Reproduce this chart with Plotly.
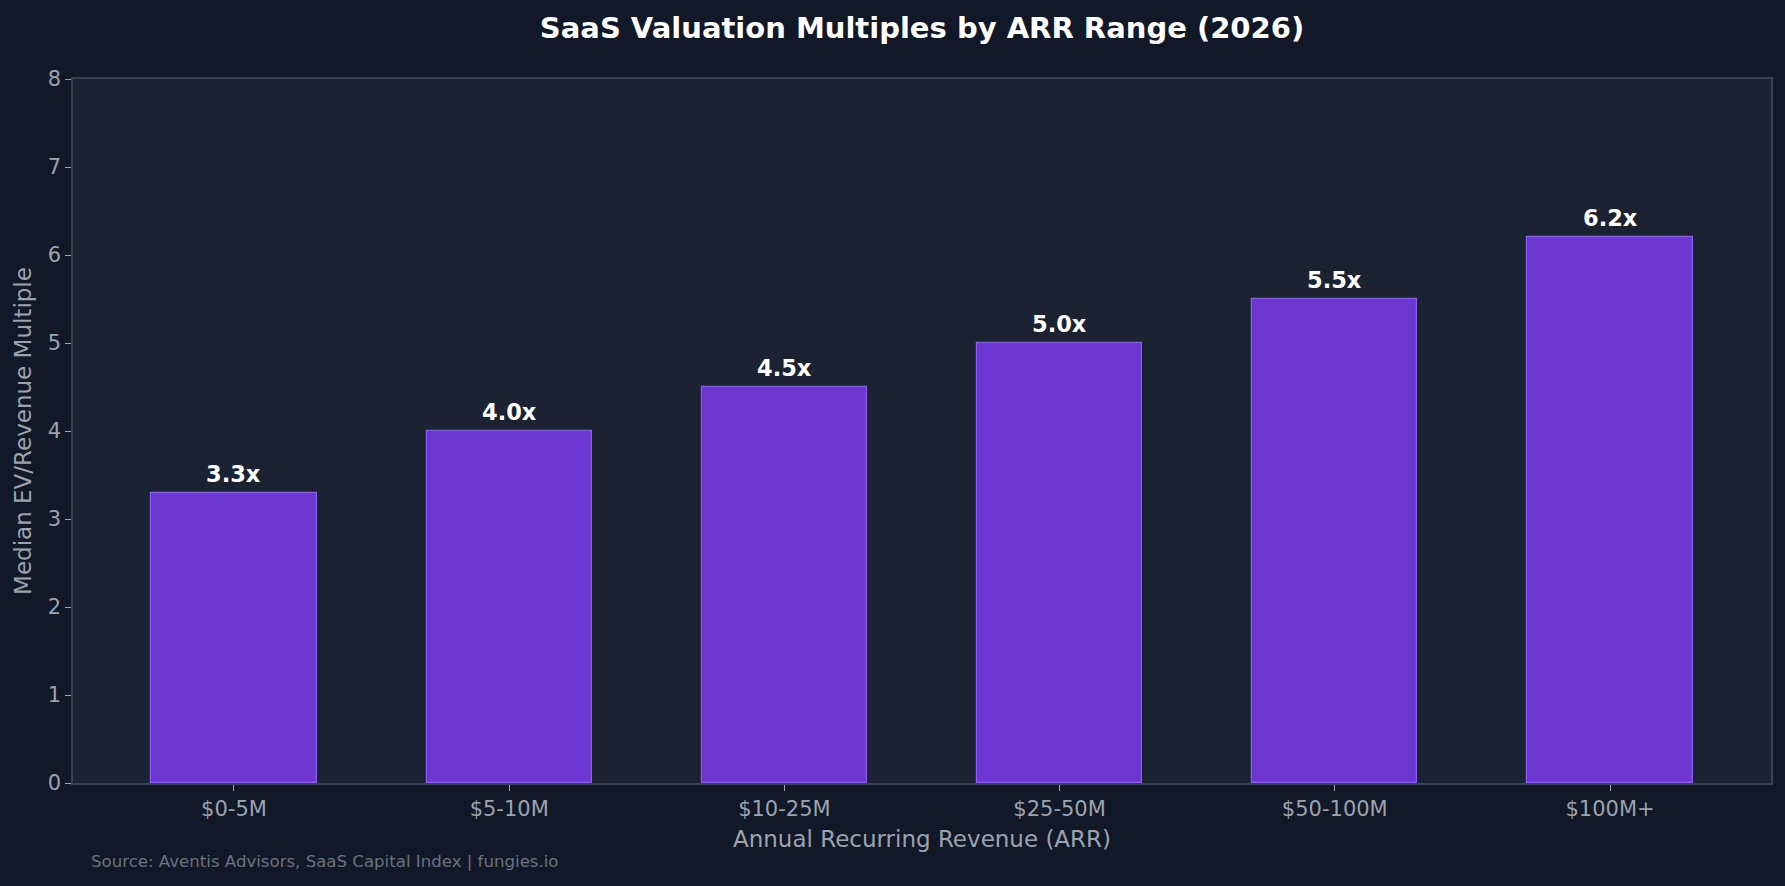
import plotly.graph_objects as go

categories = ["$0-5M", "$5-10M", "$10-25M", "$25-50M", "$50-100M", "$100M+"]
multiples = [3.3, 4.0, 4.5, 5.0, 5.5, 6.2]
labels = [f"{v:.1f}x" for v in multiples]
y_ticks = [0, 1, 2, 3, 4, 5, 6, 7, 8]

FONT = "DejaVu Sans"
W, H = 1785, 886
L, R, T, B = 73, 14, 79, 103

fig = go.Figure()
fig.add_trace(go.Bar(
    x=list(range(len(categories))),
    y=multiples,
    width=0.6,
    marker=dict(color="#6d36d1", line=dict(color="#8b5cf6", width=1.2)),
    hoverinfo="skip",
))

for i, (v, t) in enumerate(zip(multiples, labels)):
    fig.add_annotation(
        x=i, y=v, text=f"<b>{t}</b>", showarrow=False,
        yanchor="bottom", yshift=4,
        font=dict(family=FONT, size=22.5, color="#ffffff"),
    )

fig.add_annotation(
    xref="paper", yref="paper",
    x=(89 - L) / (W - L - R), y=-(861 - (H - B)) / (H - T - B),
    xanchor="left", yanchor="middle", showarrow=False,
    text="Source: Aventis Advisors, SaaS Capital Index | fungies.io",
    font=dict(family=FONT, size=16.6, color="#6b7280"),
)

fig.update_layout(
    width=W, height=H,
    margin=dict(l=L, r=R, t=T, b=B, pad=0),
    paper_bgcolor="#111827",
    plot_bgcolor="#1b2332",
    showlegend=False,
    bargap=0,
    title=dict(
        text="<b>SaaS Valuation Multiples by ARR Range (2026)</b>",
        xref="paper", x=0.5, xanchor="center", y=1 - 28 / H, yanchor="middle",
        font=dict(family=FONT, size=29, color="#ffffff"),
    ),
    font=dict(family=FONT, color="#9ca3af"),
)

fig.update_xaxes(
    range=[-0.585, 5.585],
    tickmode="array",
    tickvals=list(range(len(categories))),
    ticktext=categories,
    ticks="outside", ticklen=6, tickwidth=1.3, tickcolor="#9ca3af",
    tickfont=dict(family=FONT, size=21, color="#9ca3af"),
    showgrid=False, zeroline=False,
    showline=True, linecolor="#374151", linewidth=1.5, mirror=True,
    title=dict(text="Annual Recurring Revenue (ARR)", standoff=11,
               font=dict(family=FONT, size=23, color="#9ca3af")),
)
fig.update_yaxes(
    range=[0, 8],
    tickmode="array", tickvals=y_ticks,
    ticks="outside", ticklen=6, tickwidth=1.3, tickcolor="#9ca3af",
    tickfont=dict(family=FONT, size=21, color="#9ca3af"),
    showgrid=False, zeroline=False,
    showline=True, linecolor="#374151", linewidth=1.5, mirror=True,
    title=dict(text="Median EV/Revenue Multiple", standoff=10,
               font=dict(family=FONT, size=23, color="#9ca3af")),
)

fig.write_html("out.html")
